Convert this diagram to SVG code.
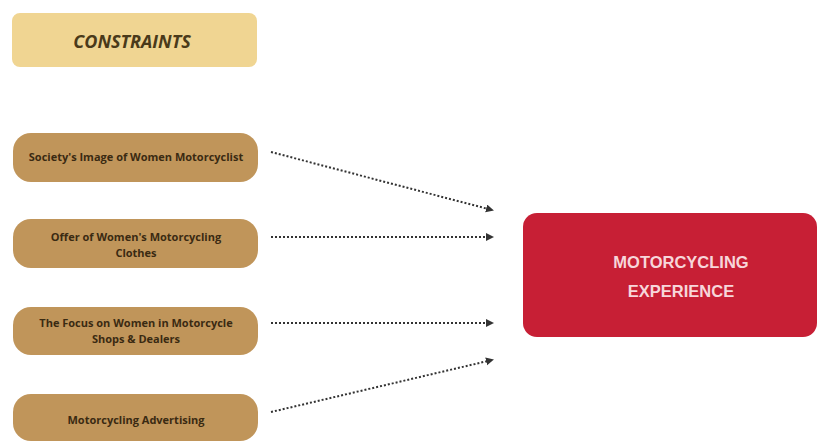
<svg xmlns="http://www.w3.org/2000/svg" width="818" height="441" viewBox="0 0 818 441">
<defs>
<marker id="ah" markerWidth="9" markerHeight="9" refX="6" refY="4" orient="auto" markerUnits="userSpaceOnUse">
<path d="M0,0 L8,4 L0,8 Z" fill="#333"/>
</marker>
<style>
.hdr{fill:#f0d592}
.node{fill:#c0955a}
.ntxt{font-family:"Open Sans","Liberation Sans",sans-serif;font-weight:bold;font-size:11px;fill:#3a2a12;text-anchor:middle}
.htxt{font-family:"Open Sans","Liberation Sans",sans-serif;font-weight:bold;font-style:italic;font-size:18px;fill:#4a3a1a;text-anchor:middle}
.rtxt{font-family:"Liberation Sans",sans-serif;font-weight:bold;font-size:16.5px;fill:#f7d6da;text-anchor:middle}
.conn{stroke:#333;stroke-width:2;stroke-dasharray:2 2;fill:none}
</style>
</defs>
<rect width="818" height="441" fill="#ffffff"/>
<g id="constraints">
<rect class="hdr" x="12" y="13" width="245" height="54" rx="8"/>
<text class="htxt" x="132" y="48">CONSTRAINTS</text>
</g>
<g id="n1">
<rect class="node" x="13" y="133" width="245" height="49" rx="18"/>
<text class="ntxt" x="136" y="161">Society's Image of Women Motorcyclist</text>
</g>
<g id="n2">
<rect class="node" x="13" y="219" width="245" height="49" rx="18"/>
<text class="ntxt" x="136" y="241">Offer of Women's Motorcycling</text>
<text class="ntxt" x="136" y="257">Clothes</text>
</g>
<g id="n3">
<rect class="node" x="13" y="307" width="245" height="48" rx="18"/>
<text class="ntxt" x="136" y="327">The Focus on Women in Motorcycle</text>
<text class="ntxt" x="136" y="343">Shops &amp; Dealers</text>
</g>
<g id="n4">
<rect class="node" x="13" y="394" width="245" height="47" rx="18"/>
<text class="ntxt" x="136" y="424">Motorcycling Advertising</text>
</g>
<g id="target">
<rect x="523" y="213" width="294" height="124" rx="14" fill="#c71f35"/>
<text class="rtxt" x="681" y="268">MOTORCYCLING</text>
<text class="rtxt" x="681" y="297">EXPERIENCE</text>
</g>
<g id="connectors">
<line class="conn" x1="271" y1="152" x2="492" y2="210" marker-end="url(#ah)"/>
<line class="conn" x1="271" y1="237" x2="492" y2="237" marker-end="url(#ah)"/>
<line class="conn" x1="271" y1="323" x2="492" y2="323" marker-end="url(#ah)"/>
<line class="conn" x1="271" y1="412" x2="492" y2="360" marker-end="url(#ah)"/>
</g>
</svg>
